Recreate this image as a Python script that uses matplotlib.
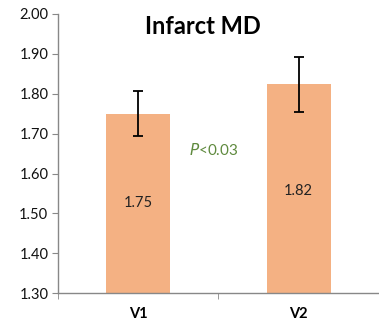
import matplotlib
matplotlib.use("Agg")
import matplotlib.pyplot as plt
from matplotlib.ticker import FixedLocator

categories = ["V1", "V2"]
values = [1.75, 1.824]
errors = [0.057, 0.069]
value_labels = ["1.75", "1.82"]
yticks = [1.30, 1.40, 1.50, 1.60, 1.70, 1.80, 1.90, 2.00]

plt.rcParams['font.family'] = ['Lato', 'DejaVu Sans']

fig = plt.figure(figsize=(3.79, 3.24), dpi=100)
ax = fig.add_axes([0.153, 0.095, 0.847, 0.862])

x = list(range(len(categories)))
ax.bar(x, values, width=0.40, color="#F4B183", zorder=2)
ax.errorbar(x, values, yerr=errors, fmt="none", ecolor="black", elinewidth=1.3,
            capsize=3.5, capthick=1.3, zorder=3)

label_y = [1.525, 1.557]
for xi, lab, ly in zip(x, value_labels, label_y):
    ax.text(xi, ly, lab, ha="center", va="center", fontsize=10.5, color="#222222")

ax.text(0.47, 1.658, "$\\mathit{P}$<0.03", ha="center", va="center",
        fontsize=11, color="#5f8a3e")

ax.set_xlim(-0.5, 1.5)
ax.set_ylim(1.30, 2.00)
ax.set_yticks(yticks)
ax.set_yticklabels([f"{t:.2f}" for t in yticks], fontsize=10.5, color="#111111")
ax.set_xticks(x)
ax.set_xticklabels(categories, fontsize=10.5, fontweight="bold")
ax.tick_params(axis="x", length=0, pad=10)
ax.xaxis.set_minor_locator(FixedLocator([-0.5, 0.5, 1.5]))
ax.tick_params(axis="x", which="minor", length=4, color="#888888", direction="out")
ax.tick_params(axis="y", length=4, color="#888888", direction="out", pad=3)

for s in ["top", "right"]:
    ax.spines[s].set_visible(False)
for s in ["left", "bottom"]:
    ax.spines[s].set_color("#888888")
    ax.spines[s].set_linewidth(1.0)

ax.set_title("Infarct MD", fontsize=17, fontweight="bold", x=0.45, y=0.90)

fig.savefig("out.png", dpi=100)
